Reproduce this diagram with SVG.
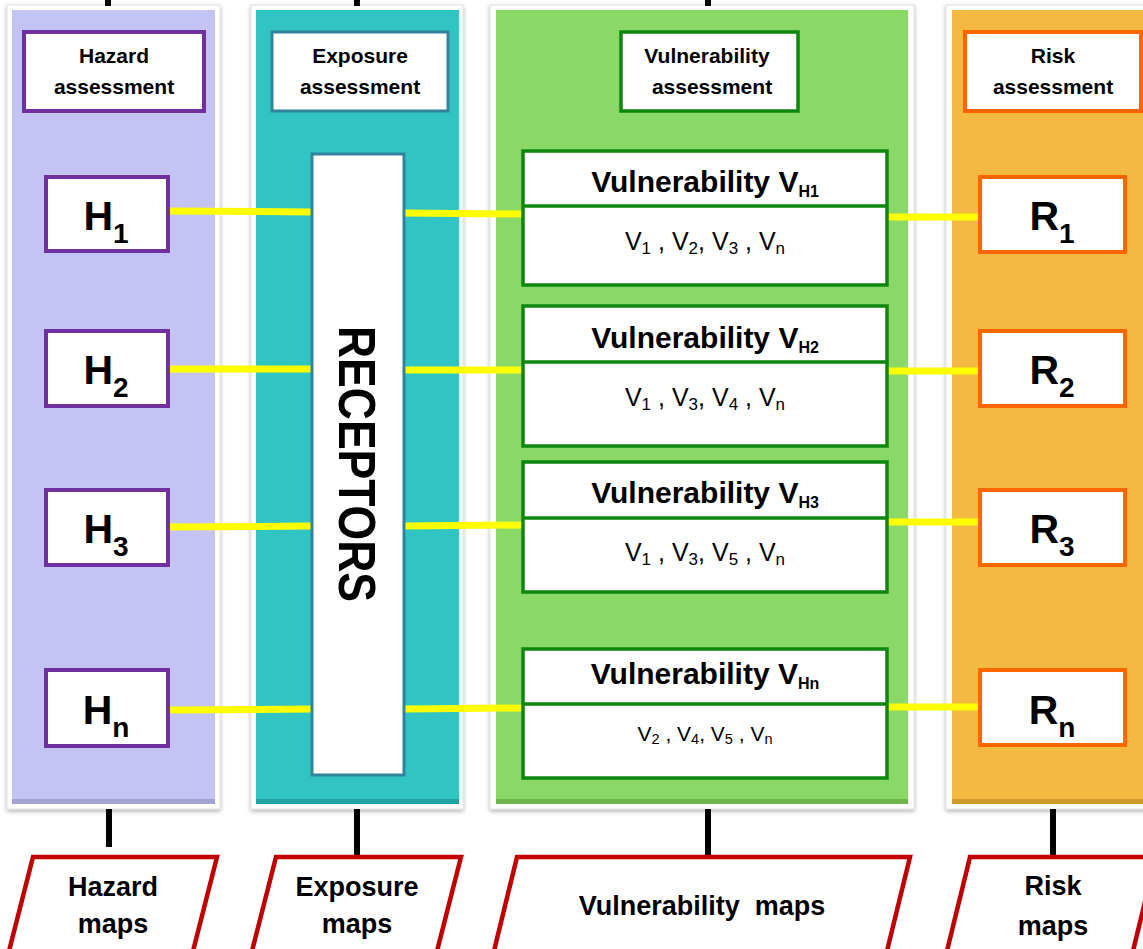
<svg xmlns="http://www.w3.org/2000/svg" width="1143" height="949" viewBox="0 0 1143 949">
<defs>
<filter id="sh" x="-5%" y="-5%" width="110%" height="110%">
<feDropShadow dx="0" dy="2" stdDeviation="2" flood-color="#000" flood-opacity="0.3"/>
</filter>
<style>
text{font-family:"Liberation Sans",Arial,sans-serif;fill:#000;text-anchor:middle}
.frame{fill:#fff;stroke:#e0e0e0;stroke-width:1;filter:url(#sh)}
.hdr{font-size:21px;font-weight:bold}
.hbox{fill:#fff;stroke:#7030A0;stroke-width:4}
.ebox{fill:#fff;stroke:#31849B;stroke-width:3}
.vbox{fill:#fff;stroke:#0E870E;stroke-width:3.5}
.rbox{fill:#fff;stroke:#FF6600;stroke-width:4}
.big{font-size:41px;font-weight:bold}
.bsub{font-size:28px;font-weight:bold}
.vt{font-size:30px;font-weight:bold}
.vs{font-size:16px;font-weight:bold}
.vl{font-size:25px}
.ls{font-size:17px}
.vl2{font-size:21px}
.ls2{font-size:14.5px}
.yl{stroke:#FFFF00;stroke-width:7;fill:none}
.bk{stroke:#000;stroke-width:6;fill:none}
.para{fill:#fff;stroke:#C00000;stroke-width:4.5;stroke-linejoin:miter}
.map{font-size:27px;font-weight:bold}
</style>
</defs>
<rect x="0" y="0" width="1143" height="949" fill="#fff"/>

<!-- columns -->
<g id="col-hazard">
<rect class="frame" x="7" y="5" width="213" height="804"/>
<rect x="12" y="10" width="203" height="794" fill="#C4C4F4"/>
<rect x="12" y="799" width="203" height="5" fill="#A3A3D3"/>
</g>
<g id="col-exposure">
<rect class="frame" x="251" y="5" width="212" height="804"/>
<rect x="256" y="10" width="203" height="794" fill="#30C4C2"/>
<rect x="256" y="799" width="203" height="5" fill="#21A19F"/>
</g>
<g id="col-vulnerability">
<rect class="frame" x="490" y="5" width="424" height="804"/>
<rect x="496" y="10" width="412" height="794" fill="#8AD866"/>
<rect x="496" y="799" width="412" height="5" fill="#6CB64B"/>
</g>
<g id="col-risk">
<rect class="frame" x="946" y="5" width="210" height="804"/>
<rect x="952" y="10" width="200" height="794" fill="#F4B940"/>
<rect x="952" y="799" width="200" height="5" fill="#CF9A2C"/>
</g>

<!-- connectors -->
<g id="connectors">
<line class="bk" x1="108" y1="0" x2="108" y2="6"/>
<line class="bk" x1="357" y1="0" x2="357" y2="6"/>
<line class="bk" x1="708" y1="0" x2="708" y2="6"/>
<line class="bk" x1="109" y1="809" x2="109" y2="847"/>
<line class="bk" x1="357" y1="809" x2="357" y2="857"/>
<line class="bk" x1="708" y1="809" x2="708" y2="857"/>
<line class="bk" x1="1053" y1="809" x2="1053" y2="857"/>
<line class="yl" x1="168" y1="211" x2="312" y2="212"/>
<line class="yl" x1="404" y1="213" x2="523" y2="214"/>
<line class="yl" x1="887" y1="217" x2="980" y2="217"/>
<line class="yl" x1="168" y1="369" x2="312" y2="369"/>
<line class="yl" x1="404" y1="370" x2="523" y2="370"/>
<line class="yl" x1="887" y1="371" x2="980" y2="371"/>
<line class="yl" x1="168" y1="527" x2="312" y2="526"/>
<line class="yl" x1="404" y1="526" x2="523" y2="525"/>
<line class="yl" x1="887" y1="522" x2="980" y2="522"/>
<line class="yl" x1="168" y1="710" x2="312" y2="709"/>
<line class="yl" x1="404" y1="709" x2="523" y2="708"/>
<line class="yl" x1="887" y1="707" x2="980" y2="707"/>
</g>

<!-- headers -->
<g id="hdr-hazard">
<rect class="hbox" x="24" y="32" width="180" height="79"/>
<text class="hdr" x="114" y="63">Hazard</text>
<text class="hdr" x="114" y="94">assessment</text>
</g>
<g id="hdr-exposure">
<rect class="ebox" x="272" y="32" width="176" height="79"/>
<text class="hdr" x="360" y="63">Exposure</text>
<text class="hdr" x="360" y="94">assessment</text>
</g>
<g id="hdr-vulnerability">
<rect class="vbox" x="621" y="32" width="177" height="79"/>
<text class="hdr" x="707" y="63">Vulnerability</text>
<text class="hdr" x="712" y="94">assessment</text>
</g>
<g id="hdr-risk">
<rect class="rbox" x="965" y="32" width="176" height="79"/>
<text class="hdr" x="1053" y="63">Risk</text>
<text class="hdr" x="1053" y="94">assessment</text>
</g>

<!-- hazard nodes -->
<g id="H1"><rect class="hbox" x="46" y="177" width="122" height="74"/><text class="big" x="106" y="230">H<tspan class="bsub" dy="13">1</tspan></text></g>
<g id="H2"><rect class="hbox" x="46" y="331" width="122" height="75"/><text class="big" x="106" y="384">H<tspan class="bsub" dy="13">2</tspan></text></g>
<g id="H3"><rect class="hbox" x="46" y="490" width="122" height="75"/><text class="big" x="106" y="543">H<tspan class="bsub" dy="13">3</tspan></text></g>
<g id="Hn"><rect class="hbox" x="46" y="670" width="122" height="76"/><text class="big" x="106" y="724">H<tspan class="bsub" dy="13">n</tspan></text></g>

<!-- receptors -->
<g id="receptors">
<rect class="ebox" x="312" y="154" width="92" height="621" stroke-width="2.5"/>
<text transform="translate(339,464) rotate(90)" x="0" y="0" font-size="52" font-weight="bold" textLength="276" lengthAdjust="spacingAndGlyphs">RECEPTORS</text>
</g>

<!-- vulnerability nodes -->
<g id="VH1">
<rect class="vbox" x="523" y="151" width="364" height="134"/>
<line x1="523" y1="206" x2="887" y2="206" stroke="#0E870E" stroke-width="3.5"/>
<text class="vt" x="705" y="192">Vulnerability V<tspan class="vs" dy="5">H1</tspan></text>
<text class="vl" x="705" y="250">V<tspan class="ls" dy="4">1</tspan><tspan dy="-4"> , V</tspan><tspan class="ls" dy="4">2</tspan><tspan dy="-4">, V</tspan><tspan class="ls" dy="4">3</tspan><tspan dy="-4"> , V</tspan><tspan class="ls" dy="4">n</tspan></text>
</g>
<g id="VH2">
<rect class="vbox" x="523" y="306" width="364" height="140"/>
<line x1="523" y1="362" x2="887" y2="362" stroke="#0E870E" stroke-width="3.5"/>
<text class="vt" x="705" y="348">Vulnerability V<tspan class="vs" dy="5">H2</tspan></text>
<text class="vl" x="705" y="406">V<tspan class="ls" dy="4">1</tspan><tspan dy="-4"> , V</tspan><tspan class="ls" dy="4">3</tspan><tspan dy="-4">, V</tspan><tspan class="ls" dy="4">4</tspan><tspan dy="-4"> , V</tspan><tspan class="ls" dy="4">n</tspan></text>
</g>
<g id="VH3">
<rect class="vbox" x="523" y="462" width="364" height="130"/>
<line x1="523" y1="518" x2="887" y2="518" stroke="#0E870E" stroke-width="3.5"/>
<text class="vt" x="705" y="503">Vulnerability V<tspan class="vs" dy="5">H3</tspan></text>
<text class="vl" x="705" y="561">V<tspan class="ls" dy="4">1</tspan><tspan dy="-4"> , V</tspan><tspan class="ls" dy="4">3</tspan><tspan dy="-4">, V</tspan><tspan class="ls" dy="4">5</tspan><tspan dy="-4"> , V</tspan><tspan class="ls" dy="4">n</tspan></text>
</g>
<g id="VHn">
<rect class="vbox" x="523" y="649" width="364" height="129"/>
<line x1="523" y1="704" x2="887" y2="704" stroke="#0E870E" stroke-width="3.5"/>
<text class="vt" x="705" y="684">Vulnerability V<tspan class="vs" dy="5">Hn</tspan></text>
<text class="vl2" x="705" y="741">V<tspan class="ls2" dy="3">2</tspan><tspan dy="-3"> , V</tspan><tspan class="ls2" dy="3">4</tspan><tspan dy="-3">, V</tspan><tspan class="ls2" dy="3">5</tspan><tspan dy="-3"> , V</tspan><tspan class="ls2" dy="3">n</tspan></text>
</g>

<!-- risk nodes -->
<g id="R1"><rect class="rbox" x="980" y="177" width="145" height="75"/><text class="big" x="1052" y="230">R<tspan class="bsub" dy="13">1</tspan></text></g>
<g id="R2"><rect class="rbox" x="980" y="331" width="145" height="75"/><text class="big" x="1052" y="384">R<tspan class="bsub" dy="13">2</tspan></text></g>
<g id="R3"><rect class="rbox" x="980" y="490" width="145" height="75"/><text class="big" x="1052" y="543">R<tspan class="bsub" dy="13">3</tspan></text></g>
<g id="Rn"><rect class="rbox" x="980" y="670" width="145" height="75"/><text class="big" x="1052" y="724">R<tspan class="bsub" dy="13">n</tspan></text></g>

<!-- map outputs -->
<g id="map-hazard">
<polygon class="para" points="33,857 217,857 192,955 8,955"/>
<text class="map" x="113" y="896">Hazard</text>
<text class="map" x="113" y="933">maps</text>
</g>
<g id="map-exposure">
<polygon class="para" points="276,857 461,857 436,955 251,955"/>
<text class="map" x="357" y="896">Exposure</text>
<text class="map" x="357" y="933">maps</text>
</g>
<g id="map-vulnerability">
<polygon class="para" points="517,857 910,857 886,955 493,955"/>
<text class="map" x="702" y="915">Vulnerability&#160; maps</text>
</g>
<g id="map-risk">
<polygon class="para" points="970,857 1156,857 1132,955 946,955"/>
<text class="map" x="1053" y="895">Risk</text>
<text class="map" x="1053" y="935">maps</text>
</g>
</svg>
